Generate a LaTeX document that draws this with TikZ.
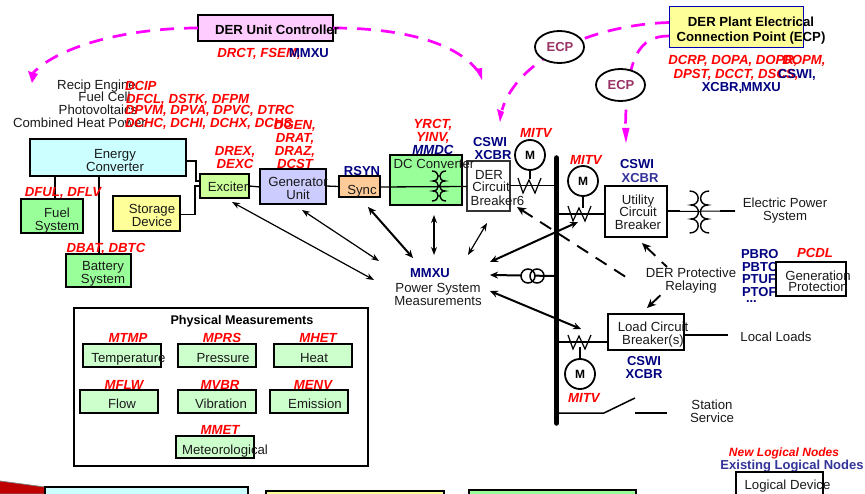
\documentclass[tikz,border=0pt]{standalone}
\usepackage{fontspec}
\setmainfont{Liberation Sans}
\usetikzlibrary{arrows.meta,calc,shapes.geometric}
\definecolor{navyl}{HTML}{000080}
\definecolor{bluel}{HTML}{333399}
\definecolor{mag}{HTML}{FF00FF}
\definecolor{ink}{HTML}{1A1A1A}
\definecolor{ecpc}{HTML}{993366}
\definecolor{cya}{HTML}{CCFFFF}
\definecolor{pnk}{HTML}{FFCCFF}
\definecolor{yel}{HTML}{FFFF99}
\definecolor{grn}{HTML}{99FF99}
\definecolor{lav}{HTML}{CCCCFF}
\definecolor{org}{HTML}{FFCC99}
\definecolor{lim}{HTML}{CCFF99}
\definecolor{pale}{HTML}{CCFFCC}
\tikzset{
 txt/.style={inner sep=0pt,outer sep=0pt,align=center,text=ink,text height=9pt,text depth=2.5pt,yshift=-1.5pt,font=\fontsize{13.2}{12.8}\selectfont},
 rtxt/.style={txt,text=red,font=\fontsize{13.2}{13.2}\bfseries\itshape\selectfont},
 ntxt/.style={txt,text=navyl,font=\fontsize{13}{13}\bfseries\selectfont},
 btxt/.style={txt,text=black,font=\fontsize{13.2}{15}\bfseries\selectfont},
 bxs/.style={draw=black,line width=1.6pt,inner sep=0pt,outer sep=0pt},
 ell/.style={draw=black,line width=1.8pt,fill=white,ellipse,inner sep=0pt},
 ecptxt/.style={txt,text=ecpc,font=\fontsize{13}{13}\bfseries\selectfont},
 wire/.style={draw=black,line width=1.3pt},
 hwire/.style={draw=black,line width=2pt},
 wig/.style={draw=black,line width=1.2pt},
 dbl/.style={draw=black,line width=1.2pt,{Stealth[length=8pt,width=6pt]}-{Stealth[length=8pt,width=6pt]}},
 dblh/.style={draw=black,line width=2pt,{Stealth[length=8pt,width=7pt]}-{Stealth[length=8pt,width=7pt]}},
 dsh/.style={draw=black,line width=1.9pt,dash pattern=on 13pt off 9pt},
 mg/.style={draw=mag,line width=2.7pt,dash pattern=on 14pt off 10pt},
 mgtip/.style={draw=none,fill=mag},
 motor/.style={circle,draw=black,line width=1.8pt,fill=white,inner sep=0pt,minimum size=30pt,font=\fontsize{12}{12}\bfseries\selectfont},
}
\newcommand\bx[6]{%
 \pgfmathsetmacro\cxx{(#3+#5)/2}\pgfmathsetmacro\cyy{(#4+#6)/2}%
 \pgfmathsetmacro\wxx{#5-#3}\pgfmathsetmacro\hyy{#6-#4}%
 \node[bxs,#2,minimum width=\wxx pt,minimum height=\hyy pt] (#1) at (\cxx,\cyy) {};}
\newcommand\coil[3]{%
 \draw[black,line width=1.4pt,shift={(#1,#2)},scale=#3]
 (-1,-15) .. controls (7,-15) and (7,-5) .. (0,-5) .. controls (7,-5) and (7,5) .. (0,5) .. controls (7,5) and (7,15) .. (-1,15)
 (13,-15) .. controls (5,-15) and (5,-5) .. (12,-5) .. controls (5,-5) and (5,5) .. (12,5) .. controls (5,5) and (5,15) .. (13,15);}
\begin{document}
\begin{tikzpicture}[x=1pt,y=-1pt]
\useasboundingbox (0,0) rectangle (865,494);
\fill[white] (0,0) rectangle (865,494);

% bottom strip
\fill[fill=red!75!black,draw=gray,line width=.8pt] (0,481) -- (45,487) -- (45,494) -- (0,494);
\draw[black,line width=1.3pt,fill=cya] (45,495) -- (45,487) -- (248,487) -- (248,495);
\draw[black,line width=1.6pt,fill=yel] (266,495) -- (266,491) -- (444,491) -- (444,495);
\draw[black,line width=1.6pt,fill=grn] (469,495) -- (469,490) -- (636,490) -- (636,495);

% top boxes
\bx{unit}{fill=pnk}{198}{15}{333}{41}
\bx{plant}{draw=blue!70!black,line width=1pt,fill=yel}{669}{7}{803}{48}

% magenta
\coordinate (tipA) at (32,83);
\coordinate (tipB) at (482,80);
\coordinate (tipC) at (500,122);
\coordinate (tipD) at (626,143);
\draw[mg] (unit.west) .. controls (130,28) and (60,45) .. (33,73);
\fill[mgtip] (tipA) -- (28,71) -- (38,74) -- cycle;
\draw[mg] (unit.east) .. controls (400,28) and (455,42) .. (477,70);
\fill[mgtip] (tipB) -- (475,69) -- (482,68) -- cycle;
\draw[mg] ([yshift=5pt]plant.west) .. controls (590,25) and (517,60) .. (502,110);
\fill[mgtip] (tipC) -- (497,109) -- (504,112) -- cycle;
\draw[mg] ([yshift=-8.5pt]plant.west) .. controls (640,36) and (626,55) .. (625.5,129);
\fill[mgtip] (tipD) -- (622,128) -- (629.5,128) -- cycle;
\node[ell,minimum width=49pt,minimum height=32pt] (ecpa) at (559.5,47) {};
\node[ell,minimum width=49pt,minimum height=32pt] (ecpb) at (620.5,85) {};
\node[ecptxt] (ecpat) at (560,47) {ECP};
\node[ecptxt] (ecpbt) at (621,85) {ECP};

% wires left
\bx{energy}{fill=cya,line width=1.8pt}{30}{139}{186}{176}
\bx{fuel}{fill=grn}{21}{199}{83}{233}
\bx{storage}{fill=yel}{113}{196}{180}{231}
\bx{battery}{fill=grn}{66}{254}{131}{287}
\bx{exciter}{line width=1.2pt,fill=lim}{200}{174}{249}{198}
\bx{gen}{fill=lav,line width=1.8pt}{260}{169}{326}{204}
\bx{sync}{fill=org,line width=1.2pt}{339}{176}{380}{197}
\bx{dcconv}{fill=grn,line width=1.8pt}{390}{155}{462}{205}
\bx{dercb}{fill=white,draw=black!80,line width=1.3pt}{467}{161}{510}{211}
\bx{utilcb}{fill=white,line width=1.5pt}{605}{186}{667}{237}
\bx{loadcb}{fill=white,line width=1.5pt}{608}{314}{684}{350}

\draw[wire,line width=1.6pt] ([yshift=-3.5pt]energy.east) -- ++(10,0) |- ([yshift=5pt]exciter.west);
\draw[wire,line width=1.6pt] ([yshift=-1pt]storage.east) -- ++(15,0) |- ([yshift=0pt]exciter.west);
\draw[wire] (55,176) -- (55,199);
\draw[wire] (99,176) -- (99,254);
\draw[wire] (exciter.east) -- ([yshift=-.5pt]gen.west);
\draw[wire] ([yshift=.5pt]gen.east) -- (sync.west);
\draw[wire] ([yshift=-.5pt]sync.east) -- (467,186.5);
\coil{433}{186}{1}

% bus
\coordinate (bustop) at (556.5,158);
\coordinate (busbot) at (556.5,423);
\draw[black,line width=5.5pt,line cap=round] (bustop) -- (busbot);

% motors & feeders
\node[motor] (m1) at (530,155) {M};
\node[motor] (m2) at (583,181) {M};
\node[motor] (m3) at (580,374) {M};
\draw[wire] (dercb.east) ++(0,-.5) -- (555,185.5);
\draw[wire] (557,214) -- (605,214);
\draw[wire] (557,342) -- (608,342);
\draw[wire] (m1.south) -- (530,179);
\draw[wire] (m2.south) -- (583,208);
\draw[wire] (m3.north) -- (580,347);
\draw[wig,shift={(530,186)}] (-12,-8) -- (-7,7) -- (-1,-6) -- (5,7) -- (11,-8);
\draw[wig,shift={(580,214)}] (-12,-8) -- (-7,7) -- (-1,-6) -- (5,7) -- (11,-8);
\draw[wig,shift={(580,342)}] (-12,-7) -- (-7,7) -- (-1,-6) -- (5,7) -- (11,-7);

% utility side
\draw[hwire,line width=1pt] (utilcb.east) -- (735,211);
\draw[hwire,line width=2.4pt] (utilcb.east) ++(0,-.5) -- (680,211);
\draw[hwire,line width=2.4pt] (720,211) -- (735,211);
\coil{691}{212}{1.4}
\draw[wire,line width=1.5pt] (684,335) -- (728,335);

% switch
\coordinate (sw1) at (604,413);
\coordinate (sw2) at (635,398);
\coordinate (sw3) at (635,413);
\coordinate (sw4) at (667,413);
\draw[wire,line width=1.5pt] (557,413) -- (sw1) -- (sw2);
\draw[wire,line width=1.8pt] (sw3) -- (sw4);

% arrows
\coordinate (aa1) at (232,202); \coordinate (aa2) at (374,280);
\coordinate (ab1) at (302,210); \coordinate (ab2) at (379,261);
\coordinate (ac1) at (368,207); \coordinate (ac2) at (413,258);
\coordinate (ad1) at (434,215); \coordinate (ad2) at (434,255);
\coordinate (ae1) at (487,223); \coordinate (ae2) at (468,255);
\coordinate (af1) at (490,262); \coordinate (af2) at (578,222);
\coordinate (ag1) at (490,275); \coordinate (ag2) at (556,276);
\coordinate (ah1) at (490,291); \coordinate (ah2) at (581,329);
\draw[dbl] (aa1) -- (aa2);
\draw[dbl] (ab1) -- (ab2);
\draw[dblh] (ac1) -- (ac2);
\draw[dbl] (ad1) -- (ad2);
\draw[dbl] (ae1) -- (ae2);
\draw[dblh] (af1) -- (af2);
\draw[draw=black,line width=2pt,{Stealth[length=8pt,width=7pt]}-] (ag1) -- (ag2);
\draw[dblh] (ah1) -- (ah2);
\node[circle,draw=black,line width=1.5pt,fill=white,inner sep=0pt,minimum size=14pt] (cta) at (528,276) {};
\node[circle,draw=black,line width=1.5pt,inner sep=0pt,minimum size=14pt] (ctb) at (537,276) {};

% dashed protective
\coordinate (da1) at (517,207); \coordinate (da2) at (632,281);
\coordinate (db1) at (642,243); \coordinate (db2) at (667,267);
\coordinate (dc1) at (647,308); \coordinate (dc2) at (667,289);
\draw[dsh,{Stealth[length=9pt,width=8pt]}-] (da1) -- (da2);
\draw[dsh,{Stealth[length=9pt,width=8pt]}-] (db1) -- (db2);
\draw[dsh,{Stealth[length=9pt,width=8pt]}-] (dc1) -- (dc2);

% top labels
\node[btxt] (unitt) at (277,30) {DER Unit Controller};
\node[rtxt] (drct) at (259,53) {DRCT, FSEM,};
\node[ntxt] (mmxua) at (309,53) {MMXU};
\node[btxt] (plantt) at (751,37) {DER Plant Electrical\\Connection Point (ECP)};
\node[rtxt] (dcrp) at (733,60) {DCRP, DOPA, DOPR,};
\node[rtxt] (dopm) at (804,60) {DOPM,};
\node[rtxt] (dpst) at (736,74) {DPST, DCCT, DSCS,};
\node[ntxt] (cswia) at (797,74) {CSWI,};
\node[ntxt] (xcbra) at (722,87) {XCBR,};
\node[ntxt] (mmxub) at (761,87) {MMXU};

% left labels
\node[txt] (recip) at (96.5,85) {Recip Engine};
\node[txt] (fuelc) at (104.5,97) {Fuel Cell};
\node[txt] (photo) at (98,110) {Photovoltaics};
\node[txt] (chp) at (79.5,123) {Combined Heat Power};
\node[rtxt,anchor=west] (dcip) at (125,86) {DCIP};
\node[rtxt,anchor=west] (dfcl) at (126,99) {DFCL, DSTK, DFPM};
\node[rtxt,anchor=west] (dpvm) at (125,110) {DPVM, DPVA, DPVC, DTRC};
\node[rtxt,anchor=west] (dchc) at (125,123) {DCHC, DCHI, DCHX, DCHS};
\node[rtxt] (dgen) at (295,164) {DGEN,\\DRAT,\\DRAZ,\\DCST};
\node[rtxt] (drex) at (235,164) {DREX,\\DEXC};
\node[txt] (energyt) at (115,167) {Energy\\Converter};
\node[txt] (excitert) at (228,187) {Exciter};
\node[txt] (gent) at (298,195) {Generator\\Unit};
\node[txt] (fuelt) at (57,226) {Fuel\\System};
\node[txt] (storaget) at (152,222) {Storage\\Device};
\node[txt] (batteryt) at (103,279) {Battery\\System};
\node[rtxt] (dful) at (63,192) {DFUL, DFLV};
\node[rtxt] (dbat) at (106,248) {DBAT, DBTC};

% middle labels
\node[ntxt] (rsyn) at (362,171) {RSYN};
\node[txt] (synct) at (362,190) {Sync};
\node[rtxt] (yrct) at (433,150) {YRCT,\\YINV,\\\textcolor{navyl}{MMDC}};
\node[txt] (dct) at (434,164) {DC Converter};
\node[ntxt] (cswib) at (490,142) {CSWI};
\node[ntxt] (xcbrb) at (493,155) {XCBR};
\node[txt] (dert) at (489,175) {DER};
\node[txt] (circt) at (491,187) {Circuit};
\node[txt] (breakt) at (497.5,201) {Breaker6};
\node[rtxt] (mitva) at (536,133) {MITV};
\node[rtxt] (mitvb) at (586,160) {MITV};
\node[rtxt] (mitvc) at (584,398) {MITV};
\node[ntxt] (mmxuc) at (430,273) {MMXU};
\node[txt] (psm) at (438,301) {Power System\\Measurements};

% right labels
\node[ntxt] (cswic) at (637,164) {CSWI};
\node[ntxt,text=bluel] (xcbrc) at (640,178) {XCBR};
\node[txt] (utilt) at (638,225) {Utility\\Circuit\\Breaker};
\node[txt] (eps) at (785,216) {Electric Power\\System};
\node[txt] (prot) at (691,286) {DER Protective\\Relaying};
\node[ntxt,anchor=west] (pbro) at (741,254) {PBRO};
\node[ntxt,anchor=west] (pbtc) at (742,267) {PBTC};
\node[ntxt,anchor=west] (ptuf) at (742,279) {PTUF};
\node[ntxt,anchor=west] (ptof) at (742,292) {PTOF};
\node[ntxt,anchor=west] (dots) at (746,298) {...};
\bx{genprot}{fill=white,line width=1.8pt}{776}{262}{846}{296}
\node[txt,font=\fontsize{13.2}{11}\selectfont] (genpt) at (818,287) {Generation\\Protection};
\node[rtxt] (pcdl) at (815,253) {PCDL};
\node[txt] (loadt) at (653,340) {Load Circuit\\Breaker(s)};
\node[ntxt] (cswid) at (644,361) {CSWI};
\node[ntxt] (xcbrd) at (644,374) {XCBR};
\node[txt] (ll) at (776,337) {Local Loads};
\node[txt] (ss) at (712,418) {Station\\Service};

% physical measurements
\bx{phys}{line width=1.4pt}{74}{308}{368}{466}
\node[txt,text=black,font=\fontsize{12.6}{13}\bfseries\selectfont] (physt) at (242,320) {Physical Measurements};
\tikzset{mb/.style={fill=pale,line width=1.3pt}}
\bx{temp}{mb}{83}{344}{161}{367}
\bx{pres}{mb}{178}{344}{256}{367}
\bx{heat}{mb}{274}{344}{352}{367}
\bx{flow}{mb}{80}{390}{158}{413}
\bx{vib}{mb}{178}{390}{256}{413}
\bx{emis}{mb}{270}{390}{348}{413}
\bx{met}{mb}{176}{436}{254}{458}
\node[rtxt] (mtmp) at (128,338) {MTMP};
\node[rtxt] (mprs) at (222,338) {MPRS};
\node[rtxt] (mhet) at (318,338) {MHET};
\node[rtxt] (mflw) at (124,385) {MFLW};
\node[rtxt] (mvbr) at (220,385) {MVBR};
\node[rtxt] (menv) at (313,385) {MENV};
\node[rtxt] (mmet) at (220,430) {MMET};
\node[txt] (tempt) at (128.5,358) {Temperature};
\node[txt] (prest) at (223,358) {Pressure};
\node[txt] (heatt) at (314,358) {Heat};
\node[txt] (flowt) at (122,404) {Flow};
\node[txt] (vibt) at (221,404) {Vibration};
\node[txt] (emist) at (315,404) {Emission};
\node[txt] (mett) at (225,450) {Meteorological};

% legend
\node[rtxt,font=\fontsize{12}{13}\bfseries\itshape\selectfont] (newl) at (784,452) {New Logical Nodes};
\node[ntxt,text=bluel] (exl) at (792,465) {Existing Logical Nodes};
\draw[black,line width=1.6pt] (736,495) -- (736,472) -- (823,472) -- (823,495);
\node[txt] (ld) at (787.5,485) {Logical Device};
\end{tikzpicture}
\end{document}
